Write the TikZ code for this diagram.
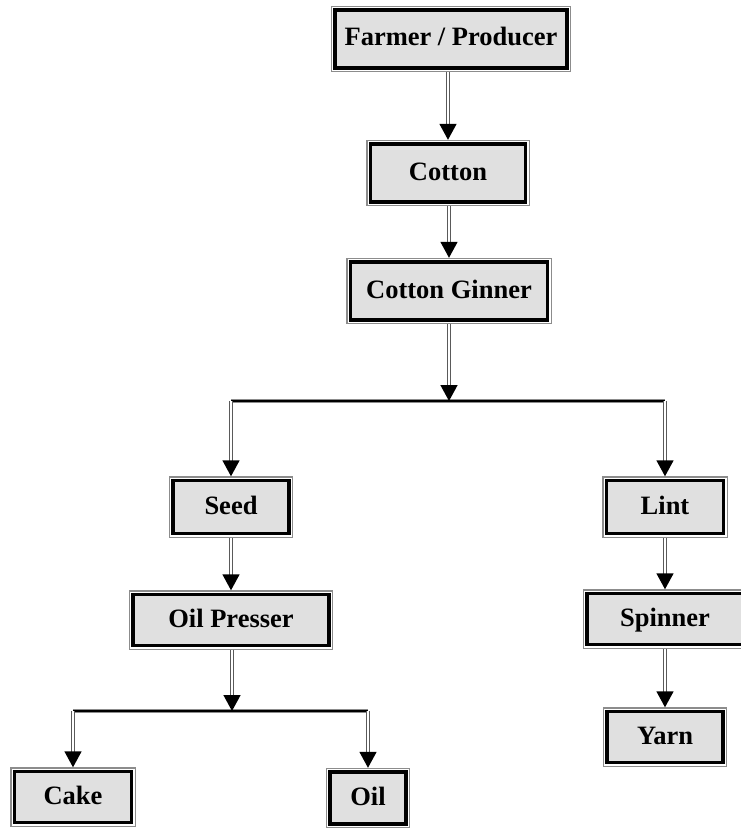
\documentclass[tikz,border=0pt]{standalone}
\usepackage{fontspec}
\setmainfont{Liberation Serif}
\usetikzlibrary{arrows.meta}
\definecolor{boxfill}{HTML}{E0E0E0}
\definecolor{edgegray}{HTML}{8C8C8C}
\definecolor{linegray}{HTML}{5A5A5A}
\tikzset{
  flowbox/.style={rectangle, fill=boxfill, draw=black, line width=3.8pt,
    preaction={draw=edgegray, line width=8.4pt},
    preaction={draw=white, line width=6pt},
    minimum height=#1, inner sep=0pt, outer sep=4.2pt,
    text height=18pt, text depth=4pt,
    font=\fontsize{26.5}{30}\selectfont\bfseries, text=black},
  flowbox/.default=59pt,
  conn/.style={draw=linegray, line width=1.5pt, double=white, double distance=1.6pt,
    -{Triangle[length=16pt,width=17pt,black]}},
  bar/.style={draw=edgegray, line width=1pt, double=black, double distance=2.8pt}
}
\begin{document}
\begin{tikzpicture}[x=1pt,y=-1pt]
\useasboundingbox (0,0) rectangle (741,832);
% boxes
\node[flowbox=58pt, minimum width=232pt] (farmer) at (451,39) {Farmer / Producer};
\node[flowbox=58pt, minimum width=155pt] (cotton) at (448,173) {Cotton};
\node[flowbox=58pt, minimum width=197pt] (ginner) at (449,291) {Cotton Ginner};
\node[flowbox=53pt, minimum width=116pt] (seed) at (231,507) {Seed};
\node[flowbox=53pt, minimum width=117pt] (lint) at (665,507) {Lint};
\node[flowbox=51pt, minimum width=196pt] (presser) at (231,620) {Oil Presser};
\node[flowbox=51pt, minimum width=156pt] (spinner) at (665,619) {Spinner};
\node[flowbox=51pt, minimum width=116pt] (yarn) at (665,737) {Yarn};
\node[flowbox=51pt, minimum width=117pt] (cake) at (73,797) {Cake};
\node[flowbox=52pt, minimum width=76pt] (oil) at (368,798) {Oil};
% junction points
\coordinate (j1) at (449,401);
\coordinate (j1l) at (231,401);
\coordinate (j1r) at (665,401);
\coordinate (j2) at (232,711);
\coordinate (j2l) at (73,711);
\coordinate (j2r) at (368,711);
% bars
\draw[bar] (j1l) -- (j1r);
\draw[bar] (j2l) -- (j2r);
% connectors
\draw[conn] (cotton.north |- farmer.south) -- (cotton.north);
\draw[conn] (cotton.south -| ginner.north) -- (ginner.north);
\draw[conn] (ginner.south) -- (j1);
\draw[conn] (j1l) -- (seed.north);
\draw[conn] (j1r) -- (lint.north);
\draw[conn] (seed.south) -- (presser.north);
\draw[conn] (lint.south) -- (spinner.north);
\draw[conn] (spinner.south) -- (yarn.north);
\draw[conn] (presser.south -| j2) -- (j2);
\draw[conn] (j2l) -- (cake.north);
\draw[conn] (j2r) -- (oil.north);
\end{tikzpicture}
\end{document}
